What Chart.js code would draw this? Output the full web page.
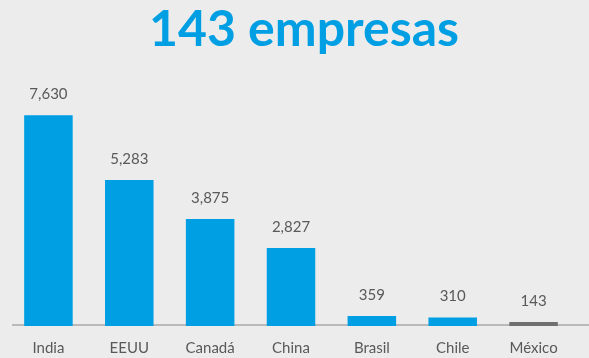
<!DOCTYPE html>
<html>
<head>
<meta charset="utf-8">
<script src="https://cdn.jsdelivr.net/npm/chart.js@4"></script>
<style>
html,body{margin:0;padding:0;background:#ececec;}
#wrap{width:589px;height:358px;position:relative;}
</style>
</head>
<body>
<div id="wrap"><canvas id="c" width="589" height="358"></canvas></div>
<script>
const titleText = "143 empresas";
const categories = ["India", "EEUU", "Canadá", "China", "Brasil", "Chile", "México"];
const values = [7630, 5283, 3875, 2827, 359, 310, 143];
const barColors = ["#009fe3", "#009fe3", "#009fe3", "#009fe3", "#009fe3", "#009fe3", "#6f6f6f"];

const bgPlugin = {
  id: 'bg',
  beforeDraw(chart) {
    const ctx = chart.ctx;
    ctx.save();
    ctx.fillStyle = '#ececec';
    ctx.fillRect(0, 0, chart.width, chart.height);
    ctx.restore();
  },
  beforeDatasetsDraw(chart) {
    const ctx = chart.ctx;
    const y = chart.scales.y.getPixelForValue(0);
    ctx.save();
    ctx.strokeStyle = '#a9a9a9';
    ctx.lineWidth = 1.5;
    ctx.beginPath();
    ctx.moveTo(12, y - 1);
    ctx.lineTo(chart.width, y - 1);
    ctx.stroke();
    ctx.restore();
  },
  afterDatasetsDraw(chart) {
    const ctx = chart.ctx;
    const meta = chart.getDatasetMeta(0);
    ctx.save();
    ctx.font = '15px Lato';
    ctx.fillStyle = '#595959';
    ctx.textAlign = 'center';
    ctx.textBaseline = 'middle';
    meta.data.forEach((bar, i) => {
      ctx.fillText(values[i].toLocaleString('en-US'), bar.x, bar.y - 21);
    });
    ctx.font = 'bold 50px Lato';
    ctx.fillStyle = '#009fe3';
    ctx.textBaseline = 'alphabetic';
    ctx.fillText(titleText, 304, 46);
    ctx.restore();
  }
};

new Chart(document.getElementById('c'), {
  type: 'bar',
  data: {
    labels: categories,
    datasets: [{
      data: values,
      backgroundColor: barColors,
      borderWidth: 0,
      barPercentage: 0.6,
      categoryPercentage: 1.0
    }]
  },
  options: {
    responsive: false,
    animation: false,
    devicePixelRatio: 1,
    layout: { padding: { top: 105, left: 8, right: 15, bottom: 0 } },
    plugins: { legend: { display: false }, tooltip: { enabled: false }, title: { display: false } },
    scales: {
      x: {
        grid: { display: false, drawTicks: false },
        border: { display: false },
        ticks: { color: '#595959', font: { family: 'Lato', size: 15 }, padding: 13 },
        afterFit(scale) { scale.height = 32; }
      },
      y: {
        display: false,
        min: 0,
        max: 8000
      }
    }
  },
  plugins: [bgPlugin]
});
</script>
</body>
</html>
